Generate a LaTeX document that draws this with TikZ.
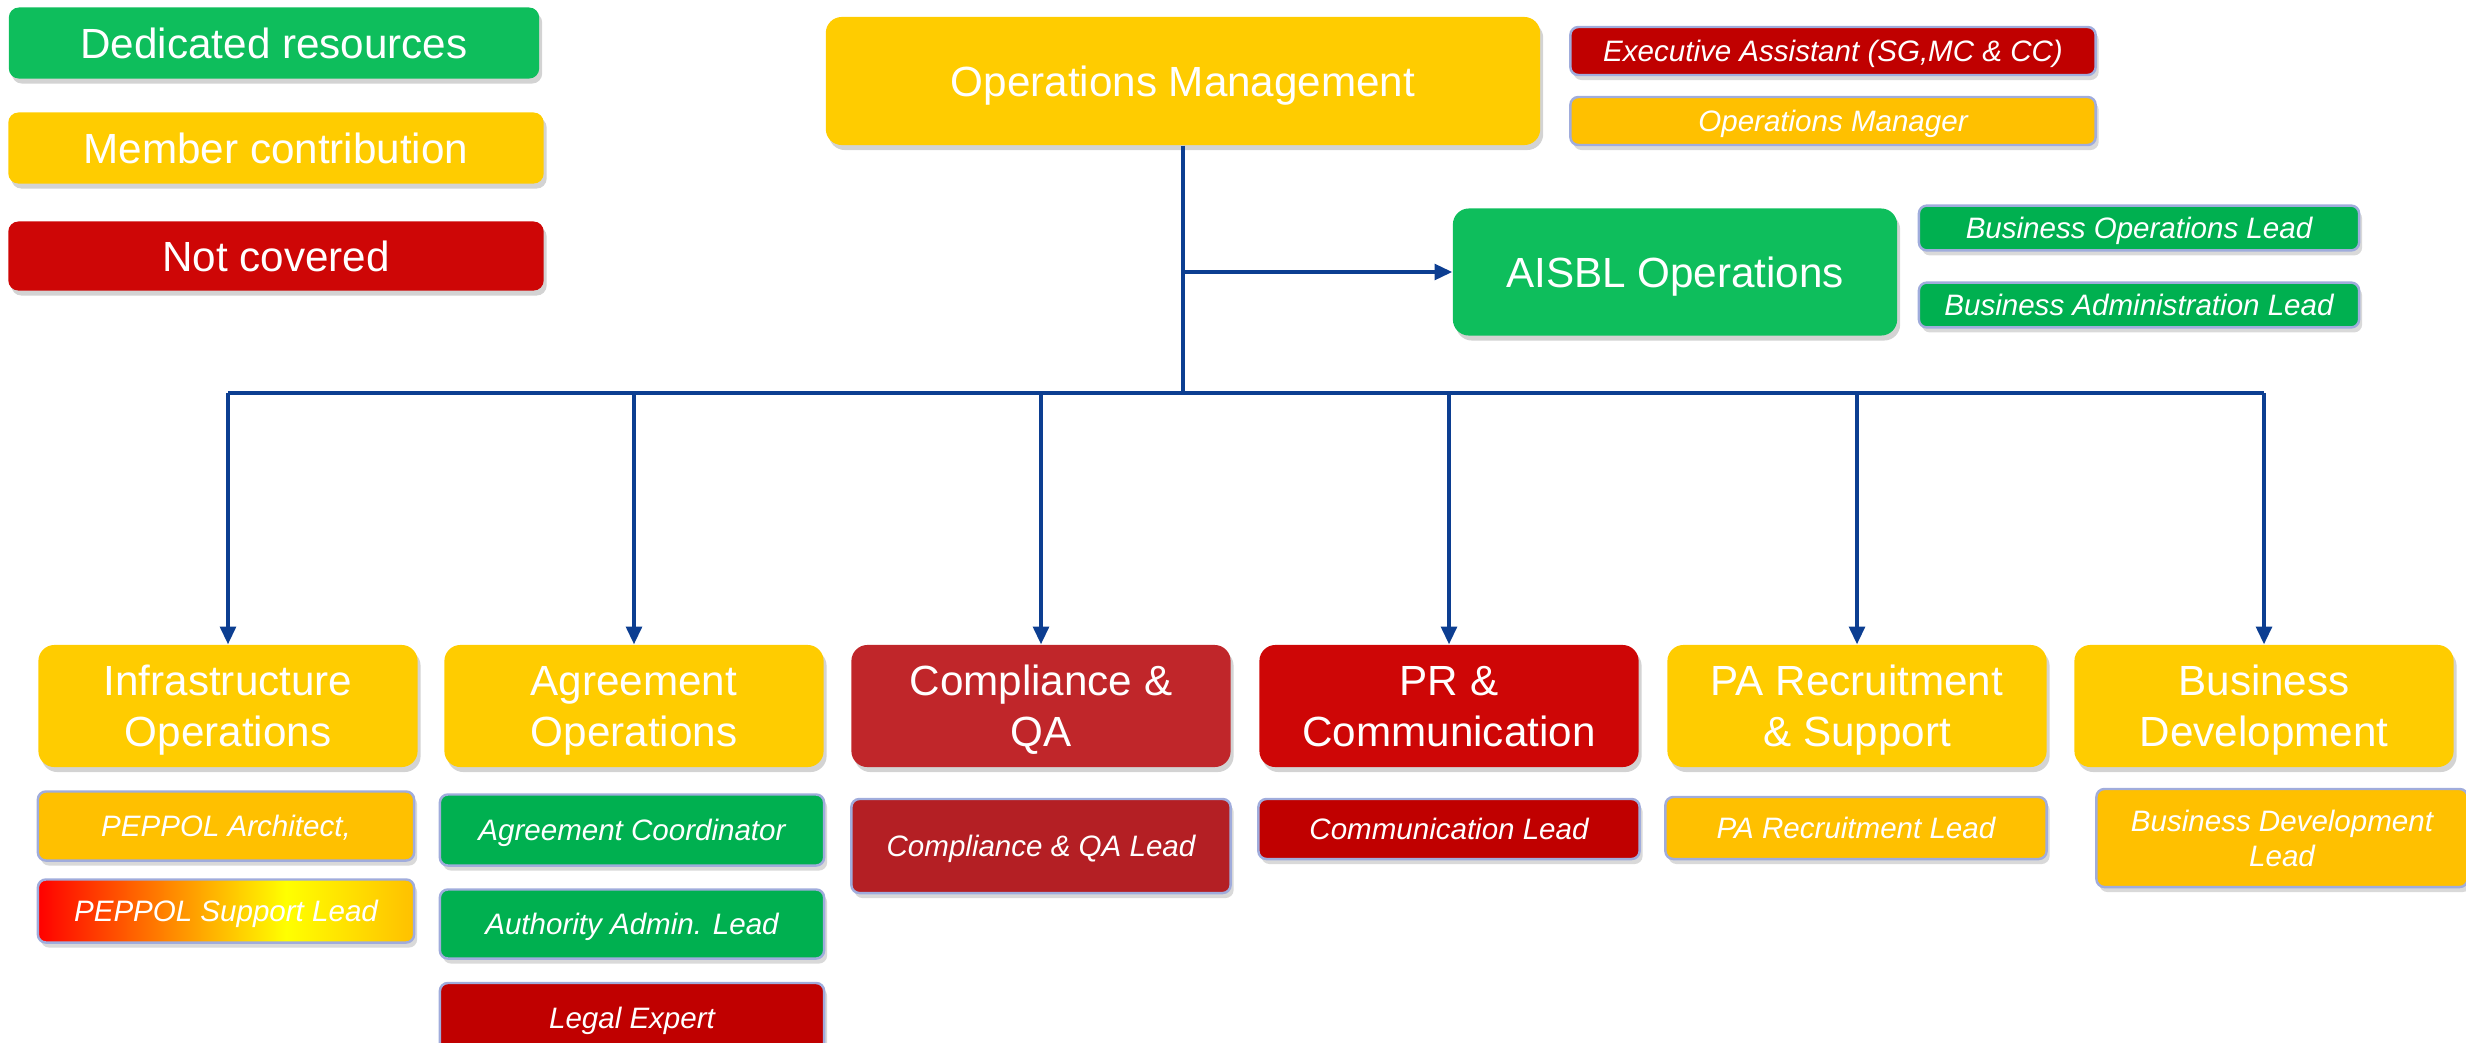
\documentclass[tikz,border=0pt]{standalone}
\usepackage{fontspec}
\setmainfont{Liberation Sans}
\usetikzlibrary{shadows,arrows.meta}

\definecolor{dedgreen}{RGB}{14,190,92}
\definecolor{greensub}{RGB}{0,176,80}
\definecolor{memyellow}{RGB}{255,204,0}
\definecolor{ambersub}{RGB}{255,192,0}
\definecolor{notred}{RGB}{206,6,6}
\definecolor{notsub}{RGB}{192,0,0}
\definecolor{compred}{RGB}{192,38,42}
\definecolor{compsub}{RGB}{180,31,36}
\definecolor{roleedge}{RGB}{160,172,220}
\definecolor{linkblue}{RGB}{12,62,145}

\pgfdeclarehorizontalshading{peppolfade}{100bp}{color(0bp)=(red); color(25bp)=(red); color(58bp)=(yellow); color(75bp)=(ambersub); color(100bp)=(ambersub)}

\begin{document}
\begin{tikzpicture}[x=0.01cm,y=-0.01cm,
    unit/.style={rounded corners=0.16cm,minimum width=3.79cm,minimum height=1.22cm,text=white,align=center,text depth=0pt,font=\fontsize{12}{14.5}\selectfont,drop shadow={opacity=0.35,shadow xshift=0.03cm,shadow yshift=-0.05cm}},
    role/.style={rounded corners=0.08cm,draw=roleedge,line width=0.7pt,text=white,align=center,text depth=0pt,font=\itshape\fontsize{8.4}{10}\selectfont,drop shadow={opacity=0.3,shadow xshift=0.03cm,shadow yshift=-0.05cm}},
    link/.style={draw=linkblue,line width=0.9pt},
    arr/.style={link,-{Triangle[length=5pt,width=4.5pt]}}
  ]
  \useasboundingbox (0,0) rectangle (2466,1042);

  \node at (274,43) [unit,fill=dedgreen,rounded corners=0.1cm,minimum width=5.3cm,minimum height=0.71cm] (keyded) {Dedicated resources};
  \node at (276,148) [unit,fill=memyellow,rounded corners=0.1cm,minimum width=5.35cm,minimum height=0.71cm] (keymem) {Member contribution};
  \node at (276,256) [unit,fill=notred,rounded corners=0.1cm,minimum width=5.35cm,minimum height=0.69cm] (keynot) {Not covered};

  \node at (1183,81) [unit,fill=memyellow,minimum width=7.14cm,minimum height=1.28cm] (opm) {Operations Management};
  \node at (1833,51) [role,fill=notsub,minimum width=5.25cm,minimum height=0.48cm] (execass) {Executive Assistant (SG,MC \& CC)};
  \node at (1833,121) [role,fill=ambersub,minimum width=5.25cm,minimum height=0.48cm] (opsmgr) {Operations Manager};

  \node at (1675,272) [unit,fill=dedgreen,minimum width=4.44cm,minimum height=1.27cm] (aisbl) {AISBL Operations};
  \node at (2139,228) [role,fill=greensub,minimum width=4.4cm,minimum height=0.44cm] (busops) {Business Operations Lead};
  \node at (2139,305) [role,fill=greensub,minimum width=4.4cm,minimum height=0.44cm] (busadm) {Business Administration Lead};

  \node at (228,706) [unit,fill=memyellow] (infra) {Infrastructure\\Operations};
  \node at (634,706) [unit,fill=memyellow] (agree) {Agreement\\Operations};
  \node at (1041,706) [unit,fill=compred] (comp) {Compliance \&\\QA};
  \node at (1449,706) [unit,fill=notred] (prcom) {PR \&\\Communication};
  \node at (1857,706) [unit,fill=memyellow] (parec) {PA Recruitment\\\& Support};
  \node at (2264,706) [unit,fill=memyellow] (busdev) {Business\\Development};

  \node at (226,826) [role,fill=ambersub,minimum width=3.76cm,minimum height=0.69cm] (archi) {PEPPOL Architect,};
  \node at (226,911) [role,shade,shading=peppolfade,minimum width=3.76cm,minimum height=0.63cm] (suplead) {PEPPOL Support Lead};
  \node at (632,830) [role,fill=greensub,minimum width=3.84cm,minimum height=0.71cm] (agrcoord) {Agreement Coordinator};
  \node at (632,924) [role,fill=greensub,minimum width=3.84cm,minimum height=0.69cm] (authadm) {Authority Admin. Lead};
  \node at (632,1018) [role,fill=notsub,minimum width=3.84cm,minimum height=0.7cm] (legal) {Legal Expert};
  \node at (1041,846) [role,fill=compsub,minimum width=3.79cm,minimum height=0.94cm] (complead) {Compliance \& QA Lead};
  \node at (1449,829) [role,fill=notsub,minimum width=3.81cm,minimum height=0.6cm] (comlead) {Communication Lead};
  \node at (1856,828) [role,fill=ambersub,minimum width=3.81cm,minimum height=0.62cm] (palead) {PA Recruitment Lead};
  \node at (2282,838) [role,fill=ambersub,minimum width=3.71cm,minimum height=0.98cm] (bdlead) {Business Development\\Lead};

  \coordinate (tap) at (1183,272);
  \coordinate (bus) at (1183,393);
  \draw[link] (opm.south) -- (bus);
  \draw[arr] (tap) -- (aisbl.west);
  \draw[link] (infra.north |- bus) -- (busdev.north |- bus);
  \draw[arr] (infra.north |- bus) -- (infra.north);
  \draw[arr] (agree.north |- bus) -- (agree.north);
  \draw[arr] (comp.north |- bus) -- (comp.north);
  \draw[arr] (prcom.north |- bus) -- (prcom.north);
  \draw[arr] (parec.north |- bus) -- (parec.north);
  \draw[arr] (busdev.north |- bus) -- (busdev.north);
\end{tikzpicture}
\end{document}
